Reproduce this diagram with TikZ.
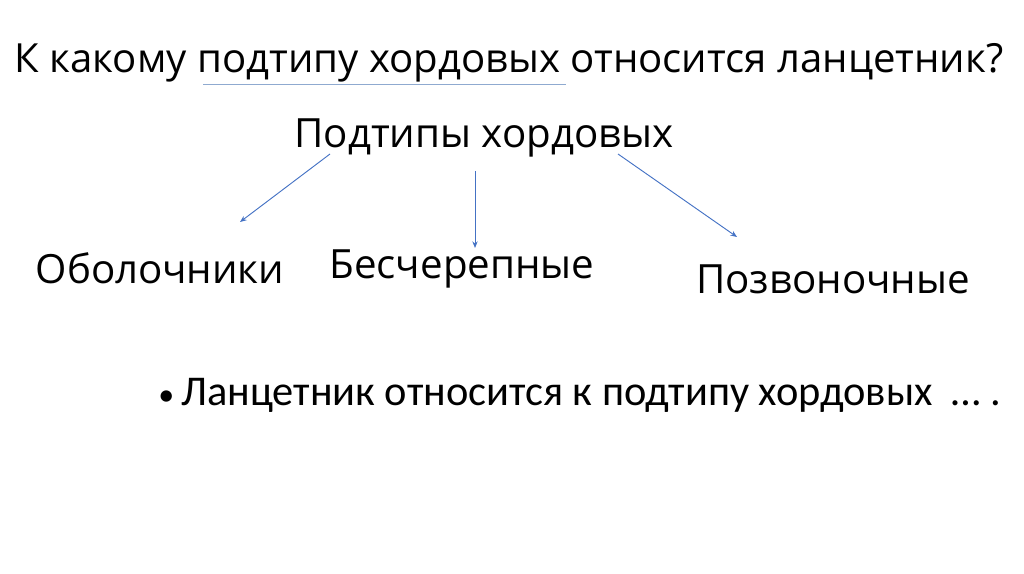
\documentclass[tikz,border=0pt]{standalone}
\usepackage{fontspec}
\setmainfont{Open Sans}
\newfontfamily\bodyfont{Carlito}
\usetikzlibrary{arrows.meta, positioning}
\definecolor{ink}{HTML}{000000}
\definecolor{accent}{HTML}{4472C4}
\definecolor{rule}{HTML}{8FAAD0}
\tikzset{
  font=\fontsize{30.2}{36}\selectfont,
  >={Stealth[length=5pt, width=4pt]},
  %
  title/.style={text=ink, inner sep=0pt, font=\fontsize{30.1}{36}\selectfont},
  word/.style={text=ink, inner sep=0pt, anchor=base},
  bullet/.style={text=ink, inner sep=0pt, anchor=base west,
                 font=\bodyfont\fontsize{31.8}{38}\selectfont},
  %
  flow/.style={draw=accent, line width=0.7pt, ->},
}
\begin{document}
\begin{tikzpicture}[x=0.75pt, y=-0.75pt]

  \useasboundingbox (0,0) rectangle (1024,574);

  \node[title, anchor=base] (q) at (509,73)
    {К какому подтипу хордовых относится ланцетник?};
  \coordinate (ul0) at (203,84);
  \coordinate (ul1) at (566,84);
  \draw[draw=rule, line width=0.6pt] (ul0) -- (ul1);

  \node[word] (sub) at (484,147) {Подтипы хордовых};

  \node[word] (tun) at (160,283) {Оболочники};
  \node[word] (acr) at (462,278) {Бесчерепные};
  \node[word] (ver) at (833,293) {Позвоночные};

  \node[bullet] (ans) at (158,405)
    {{\fontsize{24}{28}\selectfont•}\,Ланцетник относится к подтипу хордовых\ \ … .};

  % arrows from the group name
  \coordinate (s1) at (330,154);
  \coordinate (e1) at (240,222);
  \coordinate (s2) at (475,171);
  \coordinate (e2) at (475,248);
  \coordinate (s3) at (618,154);
  \coordinate (e3) at (737,237);
  \draw[flow] (s1) -- (e1);
  \draw[flow] (s2) -- (e2);
  \draw[flow] (s3) -- (e3);

\end{tikzpicture}
\end{document}
